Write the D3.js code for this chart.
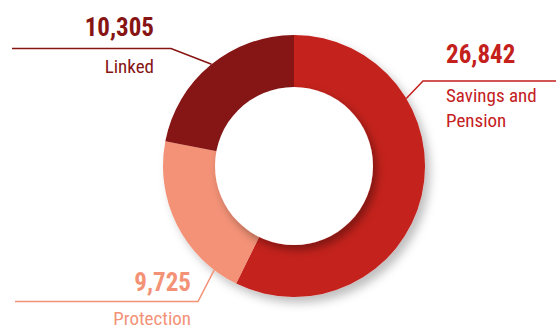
<!DOCTYPE html>
<html>
<head>
<meta charset="utf-8">
<script src="https://cdn.jsdelivr.net/npm/d3@7"></script>
<style>
  html, body { margin: 0; padding: 0; background: #fff; }
  svg { display: block; }
  .cond { font-family: "Liberation Sans Narrow", "Roboto Condensed", "Arial Narrow", sans-serif; }
</style>
</head>
<body>
<svg id="chart" width="556" height="329"></svg>
<script>
// Business lines and their values
const categories = ["Savings and Pension", "Protection", "Linked"];
const values = [26842, 9725, 10305];
const labelLines = [["Savings and", "Pension"], ["Protection"], ["Linked"]];
const colors = ["#C4201C", "#F39277", "#861413"];

const W = 556, H = 329;
const cx = 294, cy = 166;
const outerR = 131, innerR = 79;

const svg = d3.select("#chart");
const defs = svg.append("defs");

const ringShadow = defs.append("filter").attr("id", "ringShadow")
  .attr("x", "-20%").attr("y", "-20%").attr("width", "140%").attr("height", "140%");
ringShadow.append("feDropShadow").attr("dx", 5).attr("dy", 6)
  .attr("stdDeviation", 5).attr("flood-color", "#000").attr("flood-opacity", 0.25);

const holeShadow = defs.append("filter").attr("id", "holeShadow")
  .attr("x", "-20%").attr("y", "-20%").attr("width", "140%").attr("height", "140%");
holeShadow.append("feDropShadow").attr("dx", 4).attr("dy", 5)
  .attr("stdDeviation", 4).attr("flood-color", "#000").attr("flood-opacity", 0.35);

const pie = d3.pie().sort(null).value(d => d).startAngle(0).endAngle(2 * Math.PI);
const arcs = pie(values);
const arc = d3.arc().innerRadius(innerR - 6).outerRadius(outerR);

const g = svg.append("g").attr("transform", `translate(${cx},${cy})`);

g.append("g").attr("filter", "url(#ringShadow)")
  .selectAll("path").data(arcs).join("path")
  .attr("d", arc)
  .attr("fill", (d, i) => colors[i]);

// white hole casting a soft shadow onto the ring
g.append("circle").attr("r", innerR).attr("fill", "#fff")
  .attr("filter", "url(#holeShadow)");

// Leader-line layout: angle (deg, clockwise from top) where the line meets the ring,
// elbow point, end of the horizontal segment, and text placement
const fmt = d3.format(",");
const layout = [
  { ang: 59,  elbow: [423, 81],  end: 556, anchor: "start", tx: 446, valueY: 63, nameY: [102, 127] },
  { ang: 217.5, elbow: [198, 301.5], end: 15, anchor: "end", tx: 191, valueY: 291, nameY: [325] },
  { ang: 321, elbow: [171, 48.5], end: 12, anchor: "end", tx: 154, valueY: 36, nameY: [73] }
];

const labels = svg.append("g").attr("class", "cond");
layout.forEach((L, i) => {
  const a = L.ang * Math.PI / 180;
  const sx = cx + Math.sin(a) * outerR;
  const sy = cy - Math.cos(a) * outerR;
  labels.append("polyline")
    .attr("points", [[sx, sy], L.elbow, [L.end, L.elbow[1]]].map(p => p.join(",")).join(" "))
    .attr("fill", "none").attr("stroke", colors[i]).attr("stroke-width", 1.5);
  labels.append("text")
    .attr("x", L.tx).attr("y", L.valueY)
    .attr("text-anchor", L.anchor)
    .attr("fill", colors[i])
    .attr("font-size", 25).attr("font-weight", "bold")
    .text(fmt(values[i]));
  labelLines[i].forEach((t, j) => {
    labels.append("text")
      .attr("x", L.tx).attr("y", L.nameY[j])
      .attr("text-anchor", L.anchor)
      .attr("fill", colors[i])
      .attr("font-size", 19)
      .text(t);
  });
});
</script>
</body>
</html>
